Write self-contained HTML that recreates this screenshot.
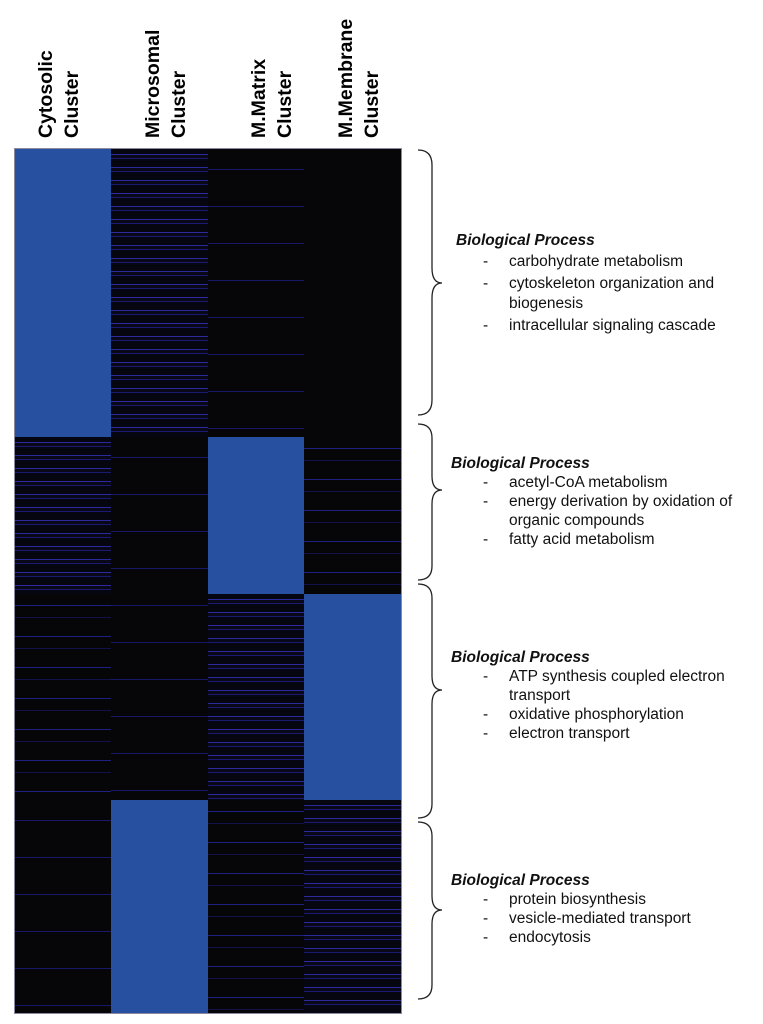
<!DOCTYPE html>
<html><head><style>
body{margin:0;background:#fff;width:763px;height:1024px;position:relative;overflow:hidden;font-family:"Liberation Sans",Arial,sans-serif}
.lab{position:absolute;top:138px;width:0;height:0}
.lab div{position:absolute;left:0;top:0;transform:rotate(-90deg);transform-origin:0 0;font-weight:bold;font-size:19.5px;line-height:26px;white-space:nowrap}
.c{position:absolute;}
.blue{background:#2850a0}
.dk{background:#060608}
.s1{background:repeating-linear-gradient(180deg,#060610 0 5px,#2a2a9a 5px 6px,#080818 6px 9px,#1a1a70 9px 10px,#060610 10px 13px)}
.s2{background:repeating-linear-gradient(180deg,#060608 0 11px,#202080 11px 12px,#060608 12px 23px,#12124a 23px 24px,#060608 24px 31px)}
.s3{background:repeating-linear-gradient(180deg,#060608 0 20px,#18186a 20px 21px,#060608 21px 37px)}
.t{position:absolute;font-size:15.5px;line-height:20px;color:#111}
.h{font-weight:bold;font-style:italic}
.d{position:absolute;left:0}
.i{position:absolute}
</style></head><body>
<div class="lab" style="left:33px"><div>Cytosolic<br>Cluster</div></div>
<div class="lab" style="left:140px"><div>Microsomal<br>Cluster</div></div>
<div class="lab" style="left:246px"><div>M.Matrix<br>Cluster</div></div>
<div class="lab" style="left:333px"><div>M.Membrane<br>Cluster</div></div>

<div class="c" style="left:15px;top:149px;width:386px;height:864px;background:#060608;outline:1px solid #8a8aa0"></div>
<div class="c blue" style="left:15px;top:149px;width:96px;height:288px"></div>
<div class="c s1" style="left:15px;top:437px;width:96px;height:157px"></div>
<div class="c s2" style="left:15px;top:594px;width:96px;height:206px"></div>
<div class="c s3" style="left:15px;top:800px;width:96px;height:213px"></div>
<div class="c s1" style="left:111px;top:149px;width:97px;height:288px"></div>
<div class="c s3" style="left:111px;top:437px;width:97px;height:363px"></div>
<div class="c blue" style="left:111px;top:800px;width:97px;height:213px"></div>
<div class="c s3" style="left:208px;top:149px;width:96px;height:288px"></div>
<div class="c blue" style="left:208px;top:437px;width:96px;height:157px"></div>
<div class="c s1" style="left:208px;top:594px;width:96px;height:206px"></div>
<div class="c s2" style="left:208px;top:800px;width:96px;height:213px"></div>
<div class="c dk" style="left:304px;top:149px;width:97px;height:288px"></div>
<div class="c s2" style="left:304px;top:437px;width:97px;height:157px"></div>
<div class="c blue" style="left:304px;top:594px;width:97px;height:206px"></div>
<div class="c s1" style="left:304px;top:800px;width:97px;height:213px"></div>

<svg style="position:absolute;left:0;top:0" width="763" height="1024" fill="none" stroke="#222" stroke-width="1.3">
<path d="M418 150 Q432 150 432 165 L432 268 Q432 283 442 283 Q432 283 432 298 L432 400 Q432 415 418 415"/>
<path d="M418 424 Q432 424 432 438 L432 476 Q432 490 442 490 Q432 490 432 504 L432 566 Q432 580 418 580"/>
<path d="M418 584 Q432 584 432 598 L432 676 Q432 690 442 690 Q432 690 432 704 L432 804 Q432 818 418 818"/>
<path d="M418 822 Q432 822 432 836 L432 896 Q432 910 442 910 Q432 910 432 924 L432 985 Q432 999 418 999"/>
</svg>

<div class="t h" style="left:456px;top:231px">Biological Process</div>
<div class="t" style="left:483px;top:252px;width:280px">
<div class="d" style="top:0">-</div><div class="i" style="left:26px;top:0">carbohydrate metabolism</div>
<div class="d" style="top:22px">-</div><div class="i" style="left:26px;top:22px;white-space:nowrap">cytoskeleton organization and<br>biogenesis</div>
<div class="d" style="top:64px">-</div><div class="i" style="left:26px;top:64px;white-space:nowrap">intracellular signaling cascade</div>
</div>

<div class="t h" style="left:451px;top:454px">Biological Process</div>
<div class="t" style="left:483px;top:473px;width:280px">
<div class="d" style="top:0">-</div><div class="i" style="left:26px;top:0">acetyl-CoA metabolism</div>
<div class="d" style="top:19px">-</div><div class="i" style="left:26px;top:19px;line-height:19px;white-space:nowrap">energy derivation by oxidation of<br>organic compounds</div>
<div class="d" style="top:57px">-</div><div class="i" style="left:26px;top:57px">fatty acid metabolism</div>
</div>

<div class="t h" style="left:451px;top:648px">Biological Process</div>
<div class="t" style="left:483px;top:667px;width:280px">
<div class="d" style="top:0">-</div><div class="i" style="left:26px;top:0;line-height:19px;white-space:nowrap">ATP synthesis coupled electron<br>transport</div>
<div class="d" style="top:38px">-</div><div class="i" style="left:26px;top:38px">oxidative phosphorylation</div>
<div class="d" style="top:57px">-</div><div class="i" style="left:26px;top:57px">electron transport</div>
</div>

<div class="t h" style="left:451px;top:871px">Biological Process</div>
<div class="t" style="left:483px;top:890px;width:280px">
<div class="d" style="top:0">-</div><div class="i" style="left:26px;top:0">protein biosynthesis</div>
<div class="d" style="top:19px">-</div><div class="i" style="left:26px;top:19px">vesicle-mediated transport</div>
<div class="d" style="top:38px">-</div><div class="i" style="left:26px;top:38px">endocytosis</div>
</div>
</body></html>
